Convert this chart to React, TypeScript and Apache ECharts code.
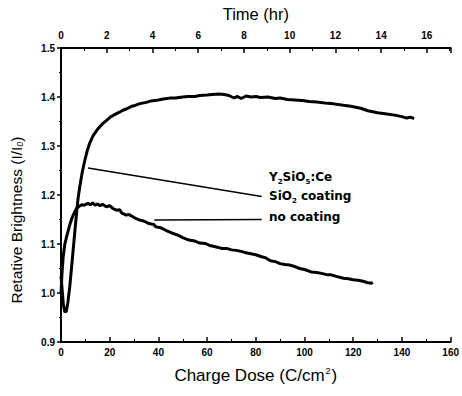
import React, { useEffect, useRef } from "react";
import * as echarts from "echarts";

const doseCoated = [0, 0.5, 1, 1.6, 2.2, 2.8, 3.6, 4.3, 5.0, 5.7, 6.4, 7.0, 7.7, 8.7, 9.8, 10.8, 11.8, 13.2, 15, 17, 18.6, 20, 22, 24, 25.4, 27, 29, 30, 32, 35, 37, 40, 42, 45, 47, 50, 52, 55, 57, 60, 62, 65, 67, 69, 71, 72.5, 74, 76, 78, 80, 82, 85, 88, 90, 93, 96, 99, 102, 105, 109.5, 112, 116, 119, 123, 126, 128, 130, 133, 137, 140, 142, 143.5, 145];
const brightCoated = [1.035, 1.005, 0.975, 0.961, 0.963, 0.98, 1.013, 1.05, 1.088, 1.127, 1.163, 1.193, 1.217, 1.246, 1.271, 1.291, 1.306, 1.321, 1.334, 1.345, 1.352, 1.358, 1.364, 1.369, 1.373, 1.376, 1.381, 1.382, 1.386, 1.389, 1.392, 1.394, 1.396, 1.398, 1.398, 1.4, 1.401, 1.401, 1.403, 1.404, 1.405, 1.406, 1.405, 1.403, 1.398, 1.401, 1.397, 1.402, 1.4, 1.401, 1.399, 1.4, 1.397, 1.398, 1.395, 1.394, 1.393, 1.391, 1.39, 1.387, 1.386, 1.383, 1.381, 1.377, 1.372, 1.37, 1.368, 1.366, 1.363, 1.36, 1.357, 1.359, 1.356];

const doseBare = [0, 0.4, 0.9, 1.5, 2.3, 3.0, 3.6, 4.3, 5, 5.7, 6.4, 7.5, 8.5, 9.5, 11, 12, 13, 14, 15, 16, 17, 18.6, 20, 21.5, 22.7, 24, 25, 26.8, 28, 30, 32.2, 34, 36, 38, 39, 41, 43, 45.7, 48, 50, 52.5, 55, 57, 59.3, 61, 63, 66, 68, 70, 72, 74, 76, 78, 80, 82.4, 84, 86, 88, 90, 92, 94, 96, 98, 100, 102.7, 105, 107, 109.5, 111, 113, 116, 118, 120, 122, 124, 126, 127.5, 128];
const brightBare = [0.998, 1.04, 1.074, 1.098, 1.115, 1.128, 1.139, 1.15, 1.159, 1.166, 1.173, 1.177, 1.18, 1.179, 1.183, 1.18, 1.184, 1.179, 1.182, 1.178, 1.181, 1.176, 1.178, 1.172, 1.169, 1.17, 1.163, 1.159, 1.16, 1.154, 1.149, 1.147, 1.142, 1.14, 1.135, 1.133, 1.128, 1.122, 1.118, 1.113, 1.108, 1.106, 1.102, 1.101, 1.097, 1.095, 1.091, 1.091, 1.088, 1.087, 1.085, 1.082, 1.08, 1.078, 1.074, 1.072, 1.066, 1.064, 1.06, 1.058, 1.057, 1.054, 1.05, 1.048, 1.043, 1.042, 1.04, 1.037, 1.037, 1.034, 1.03, 1.029, 1.027, 1.026, 1.024, 1.021, 1.02, 1.022];

const timeMaxHr = 17.04; // top axis: 16 hr lines up with ~150 C/cm2
const leaderCoated = [[11.1, 1.255], [82.4, 1.197]];
const leaderBare = [[38.3, 1.149], [82.4, 1.15]];
const labelLines = ["{t|Y}{s|2}{t|SiO}{s|5}{t|:Ce}", "{t|SiO}{s|2}{t| coating}", "{t|no coating}"];
const yTitle = "Retative Brightness (I/I{sub|0})";

const FONT = "'Liberation Sans', Arial, sans-serif";

export default function App() {
  const ref = useRef<HTMLDivElement>(null);
  useEffect(() => {
    const chart = echarts.init(ref.current!, null, { renderer: "svg" });
    const zip = (xs: number[], ys: number[]) => xs.map((x, i) => [x, ys[i]]);
    const lineStyleAx = { color: "#000", width: 2 };
    const labelFont = { color: "#000", fontFamily: FONT, fontWeight: "bold" as const, fontSize: 10 };
    const annRich = {
      t: { fontFamily: "'DejaVu Sans', sans-serif", fontWeight: "bold" as const, fontSize: 12, color: "#000" },
      s: { fontFamily: "'DejaVu Sans', sans-serif", fontWeight: "bold" as const, fontSize: 7, color: "#000", padding: [10, 0, 0, 0] },
    };
    chart.setOption({
      animation: false,
      backgroundColor: "#fff",
      grid: { left: 61, right: 8, top: 48, bottom: 54 },
      xAxis: [
        {
          type: "value",
          position: "bottom",
          min: 0,
          max: 160,
          interval: 20,
          axisLine: { show: true, lineStyle: lineStyleAx },
          axisTick: { show: true, inside: true, length: 5, lineStyle: { color: "#000", width: 1.5 } },
          minorTick: { show: true, splitNumber: 2, length: 3, lineStyle: { color: "#000", width: 1 } },
          splitLine: { show: false },
          axisLabel: { ...labelFont, margin: 5 },
          name: "Charge Dose (C/cm{sup|2})",
          nameLocation: "middle",
          nameGap: 24,
          nameTextStyle: {
            fontFamily: FONT,
            fontSize: 17,
            color: "#000",
            rich: { sup: { fontFamily: FONT, fontSize: 9, color: "#000", padding: [0, 1, 10, 1] } },
          },
        },
        {
          type: "value",
          position: "top",
          min: 0,
          max: timeMaxHr,
          interval: 2,
          axisLine: { show: true, lineStyle: lineStyleAx },
          axisTick: { show: true, inside: true, length: 5, lineStyle: { color: "#000", width: 1.5 } },
          minorTick: { show: true, splitNumber: 2, length: 3, lineStyle: { color: "#000", width: 1 } },
          splitLine: { show: false },
          axisLabel: {
            ...labelFont,
            margin: 8,
            showMaxLabel: false,
            formatter: (v: number) => (Math.abs(v % 2) < 1e-6 ? String(v) : ""),
          },
          name: "Time (hr)",
          nameLocation: "middle",
          nameGap: 26,
          nameTextStyle: { fontFamily: FONT, fontSize: 16.5, color: "#000" },
        },
      ],
      yAxis: [
        {
          type: "value",
          position: "left",
          min: 0.9,
          max: 1.5,
          interval: 0.1,
          axisLine: { show: true, lineStyle: lineStyleAx },
          axisTick: { show: true, inside: false, length: 4, lineStyle: { color: "#000", width: 1.5 } },
          minorTick: { show: true, splitNumber: 2, length: 2, lineStyle: { color: "#000", width: 1 } },
          splitLine: { show: false },
          axisLabel: { ...labelFont, margin: 6, formatter: (v: number) => v.toFixed(1) },
        },
        {
          type: "value",
          position: "right",
          min: 0.9,
          max: 1.5,
          axisLine: { show: true, lineStyle: lineStyleAx },
          axisTick: { show: false },
          axisLabel: { show: false },
          splitLine: { show: false },
        },
      ],
      series: [
        {
          name: "SiO2 coating",
          type: "line",
          xAxisIndex: 0,
          yAxisIndex: 0,
          data: zip(doseCoated, brightCoated),
          showSymbol: false,
          lineStyle: { color: "#000", width: 3 },
          markLine: {
            silent: true,
            symbol: "none",
            label: { show: false },
            lineStyle: { color: "#000", width: 1.5, type: "solid" },
            data: [
              [{ coord: leaderCoated[0] }, { coord: leaderCoated[1] }],
              [{ coord: leaderBare[0] }, { coord: leaderBare[1] }],
            ],
          },
        },
        {
          name: "no coating",
          type: "line",
          xAxisIndex: 0,
          yAxisIndex: 0,
          data: zip(doseBare, brightBare),
          showSymbol: false,
          lineStyle: { color: "#000", width: 3 },
        },
      ],
      graphic: [
        { type: "text", left: 269, top: 171, style: { text: labelLines[0], rich: annRich } },
        { type: "text", left: 269, top: 190, style: { text: labelLines[1], rich: annRich } },
        { type: "text", left: 269, top: 211, style: { text: labelLines[2], rich: annRich } },
        {
          type: "text",
          x: 16,
          y: 220,
          rotation: Math.PI / 2,
          style: {
            text: yTitle,
            align: "center",
            verticalAlign: "middle",
            fontFamily: FONT,
            fontSize: 15.5,
            fill: "#000",
            rich: { sub: { fontFamily: FONT, fontSize: 9, fontStyle: "italic", fill: "#000", padding: [8, 0, 0, 0] } },
          },
        },
      ],
    });
    return () => chart.dispose();
  }, []);
  return <div ref={ref} style={{ position: "absolute", left: 0, top: 0, width: 462, height: 396 }} />;
}
